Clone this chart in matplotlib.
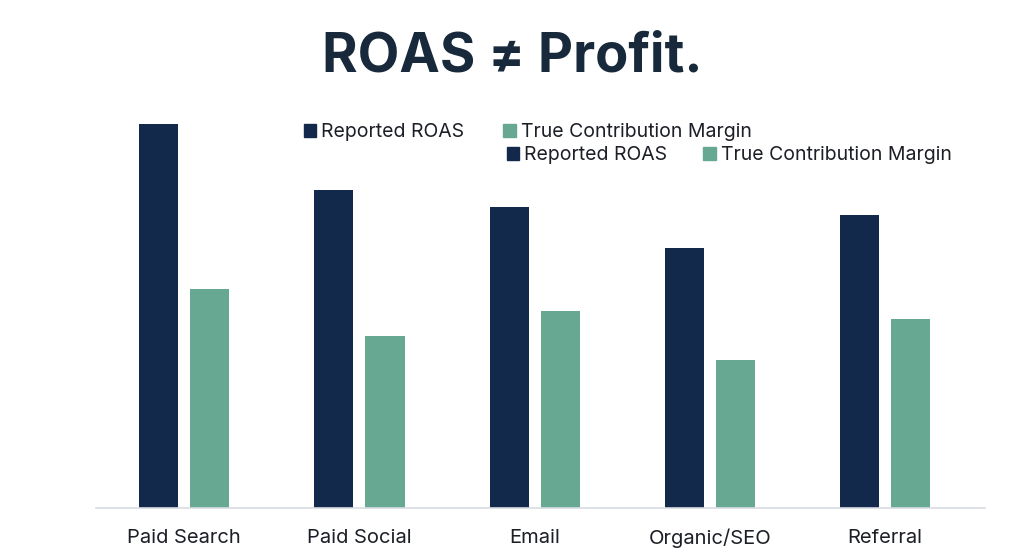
import matplotlib.pyplot as plt
from matplotlib.patches import Patch
import numpy as np

# Data (arbitrary units)
channels = ['Paid Search', 'Paid Social', 'Email', 'Organic/SEO', 'Referral']
reported_roas = [4.80, 3.98, 3.76, 3.25, 3.66]
true_margin = [2.74, 2.15, 2.46, 1.85, 2.36]

navy = '#13294b'
green = '#67a893'
title_col = '#17293a'
text_col = '#1c1f26'

plt.rcParams['font.family'] = ['Inter', 'DejaVu Sans']

fig = plt.figure(figsize=(10.24, 5.59), dpi=100)
ax = fig.add_axes([96 / 1024, 1 - 508 / 559, 889 / 1024, 408 / 559])

x = np.arange(len(channels))
w = 0.223
off = 0.146
ax.bar(x - off, reported_roas, width=w, color=navy)
ax.bar(x + off, true_margin, width=w, color=green)

ax.set_xlim(-0.503, 4.57)
ax.set_ylim(0, 5.1)
ax.set_yticks([])
ax.set_xticks(x)
ax.set_xticklabels(channels, fontsize=14.5, color=text_col)
ax.tick_params(axis='x', length=0, pad=15)
for s in ['top', 'right', 'left']:
    ax.spines[s].set_visible(False)
ax.spines['bottom'].set_color('#d8dce2')
ax.spines['bottom'].set_linewidth(1.2)

fig.text(0.5, 1 - 57 / 559, 'ROAS \u2260 Profit.', ha='center', va='center',
         fontsize=39, fontweight='bold', color=title_col)

handles = [Patch(color=navy), Patch(color=green)]
labels = ['Reported ROAS', 'True Contribution Margin']
leg1 = fig.legend(handles, labels, loc='center left', ncol=2, frameon=False,
                  bbox_to_anchor=(286 / 1024, 1 - 132 / 559), fontsize=14,
                  handlelength=0.65, handleheight=0.65, handletextpad=0.25,
                  columnspacing=2.0, labelcolor=text_col)
leg2 = fig.legend(handles, labels, loc='center left', ncol=2, frameon=False,
                  bbox_to_anchor=(489 / 1024, 1 - 155 / 559), fontsize=14,
                  handlelength=0.65, handleheight=0.65, handletextpad=0.25,
                  columnspacing=1.85, labelcolor=text_col)

fig.savefig('out.png', dpi=100)
